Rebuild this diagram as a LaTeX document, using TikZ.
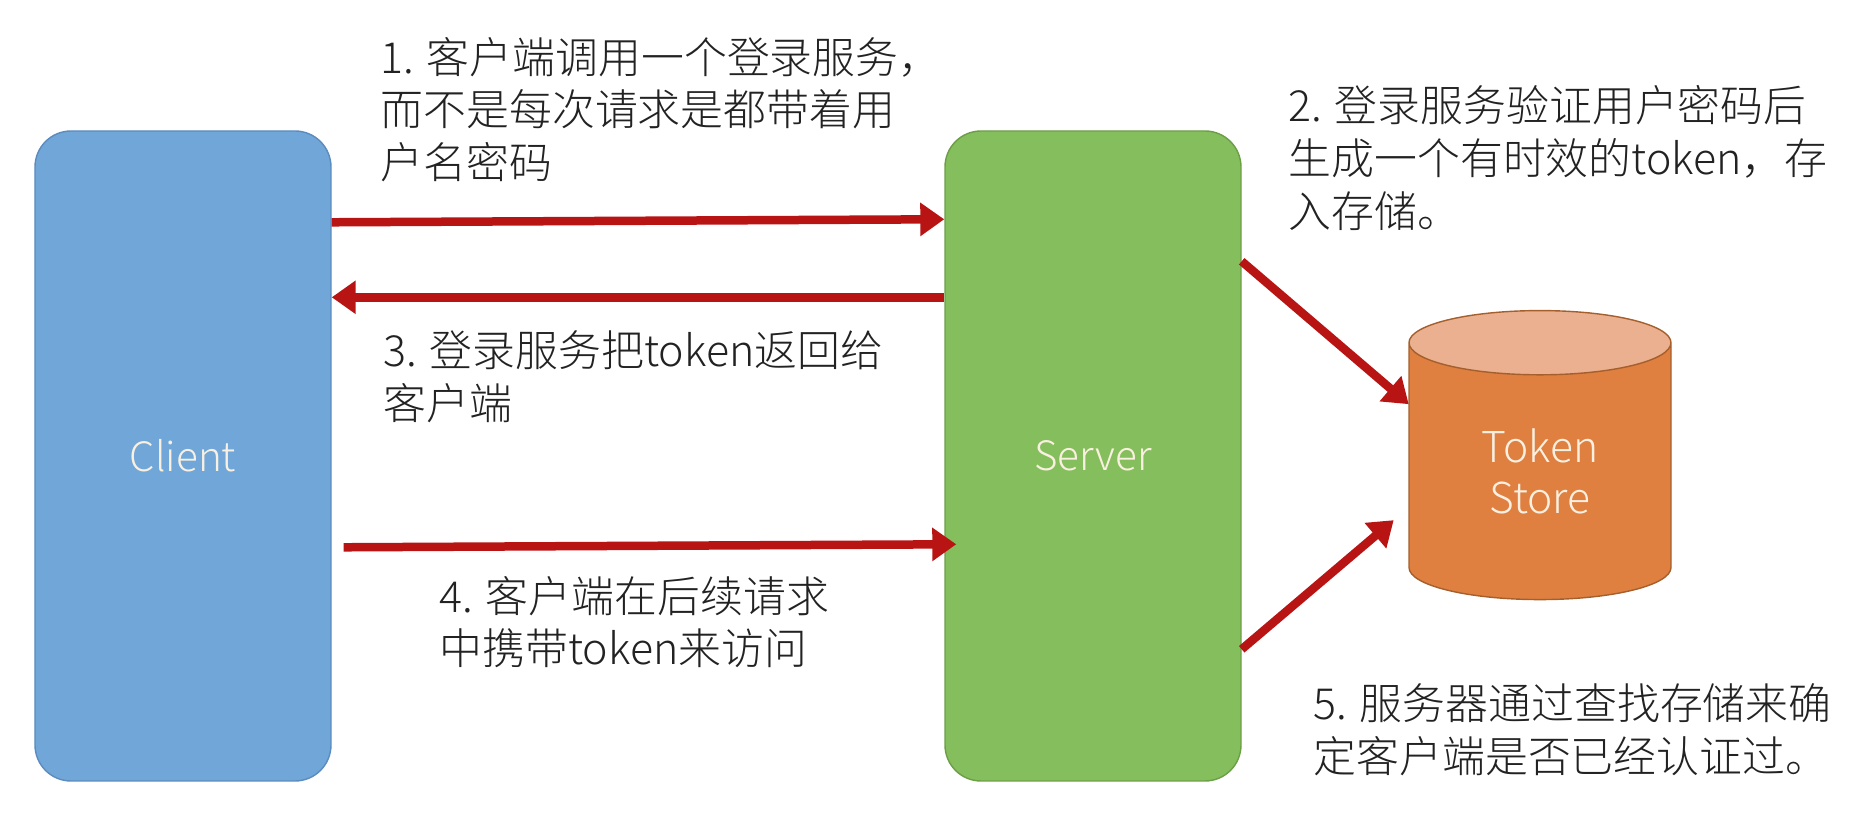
\documentclass[tikz,border=0pt]{standalone}
\usepackage{fontspec}
\setmainfont{Noto Sans CJK SC Light}
\usetikzlibrary{positioning, arrows.meta, shapes.geometric, calc}
\definecolor{srClient}{RGB}{112, 166, 216}
\definecolor{srClientEdge}{RGB}{92, 140, 190}
\definecolor{srServer}{RGB}{133, 190, 92}
\definecolor{srServerEdge}{RGB}{108, 158, 72}
\definecolor{srStore}{RGB}{223, 128, 64}
\definecolor{srStoreTop}{RGB}{235, 176, 143}
\definecolor{srStoreEdge}{RGB}{165, 95, 45}
\definecolor{srRed}{RGB}{184, 20, 20}
\definecolor{srText}{RGB}{34, 34, 34}
\definecolor{srLabel}{RGB}{250, 240, 225}

\begin{document}
\begin{tikzpicture}[
          boxnode/.style={draw, rounded corners=3.6mm, minimum width=2.96cm,
                          minimum height=6.50cm, align=center,
                          font=\fontsize{11.5}{15}\selectfont, text=srLabel},
          storenode/.style={draw=srStoreEdge, cylinder, shape border rotate=90,
                          aspect=0.55, minimum width=2.62cm, minimum height=2.89cm,
                          cylinder uses custom fill, cylinder body fill=srStore,
                          cylinder end fill=srStoreTop, align=center, inner sep=0pt,
                          font=\fontsize{12.1}{14.7}\selectfont, text=srLabel},
          note/.style={anchor=west, align=left, inner sep=0pt, text=srText,
                          font=\fontsize{12.2}{15}\selectfont},
          arr/.style={-{Triangle[length=2.4mm, width=3.2mm]}, line width=0.85mm, color=srRed}]
        \useasboundingbox (0, 0) rectangle (18.72, -8.38);
        \node[boxnode, draw=srClientEdge, fill=srClient] (client) at (1.83, -4.56) {Client};
        \node[boxnode, draw=srServerEdge, fill=srServer] (server) at (10.93, -4.56) {Server};
        \node[storenode] (store) at (15.40, -4.715) {Token\\Store};
        \draw[arr] ($(client.north east)+(0,-0.92)$) -- ($(server.north west)+(0,-0.89)$);
        \draw[arr] ($(server.north west)+(0,-1.67)$) -- ($(client.north east)+(0,-1.67)$);
        \draw[arr] ($(client.north east)+(0.12,-4.17)$) -- ($(server.north west)+(0.12,-4.14)$);
        \draw[arr] ($(server.north east)+(0,-1.31)$) -- ($(store.north west)+(0,-0.64)$);
        \draw[arr] ($(server.north east)+(0,-5.19)$) -- ($(store.north west)+(-0.15,-1.80)$);
        \node[note] (step1) at (3.80, -1.095) {1. 客户端调用一个登录服务，\\而不是每次请求是都带着用\\户名密码};
        \node[note] (step2) at (12.88, -1.58) {2. 登录服务验证用户密码后\\生成一个有时效的token，存\\入存储。};
        \node[note] (step3) at (3.83, -3.77) {3. 登录服务把token返回给\\客户端};
        \node[note] (step4) at (4.39, -6.22) {4. 客户端在后续请求\\中携带token来访问};
        \node[note] (step5) at (13.13, -7.30) {5. 服务器通过查找存储来确\\定客户端是否已经认证过。};
      \end{tikzpicture}
\end{document}
